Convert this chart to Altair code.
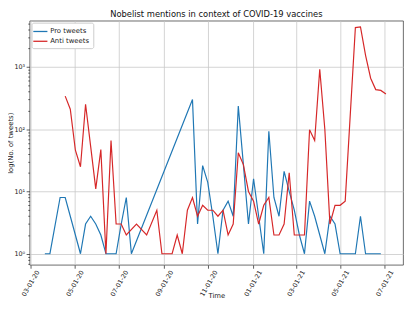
import altair as alt
import pandas as pd

# ---- data (weekly counts, zero weeks omitted) ----
pro_dates = [
    "2020-03-21", "2020-03-28", "2020-04-11", "2020-04-18", "2020-04-25", "2020-05-02",
    "2020-05-09", "2020-05-16", "2020-05-23", "2020-05-30", "2020-06-06", "2020-06-13",
    "2020-06-20", "2020-06-27", "2020-07-04", "2020-07-11", "2020-07-18", "2020-10-10",
    "2020-10-17", "2020-10-24", "2020-10-31", "2020-11-07", "2020-11-14", "2020-11-21",
    "2020-11-28", "2020-12-05", "2020-12-12", "2020-12-19", "2020-12-26", "2021-01-02",
    "2021-01-09", "2021-01-16", "2021-01-23", "2021-01-30", "2021-02-06", "2021-02-13",
    "2021-02-20", "2021-02-27", "2021-03-06", "2021-03-13", "2021-03-20", "2021-03-27",
    "2021-04-03", "2021-04-10", "2021-04-17", "2021-04-24", "2021-05-01", "2021-05-08",
    "2021-05-15", "2021-05-22", "2021-05-29", "2021-06-05", "2021-06-12", "2021-06-19",
    "2021-06-26",
]
pro_counts = [
    1, 1, 8, 8, 4, 2,
    1, 3, 4, 3, 2, 1,
    1, 1, 3, 8, 1, 300,
    3, 26, 14, 4, 1, 5,
    7, 4, 236, 27, 3, 16,
    4, 1, 93, 8, 4, 21,
    10, 5, 2, 1, 7, 4,
    2, 1, 4, 3, 1, 1,
    1, 1, 4, 1, 1, 1,
    1,
]

anti_dates = [
    "2020-04-18", "2020-04-25", "2020-05-02", "2020-05-09", "2020-05-16", "2020-05-23",
    "2020-05-30", "2020-06-06", "2020-06-13", "2020-06-20", "2020-06-27", "2020-07-04",
    "2020-07-11", "2020-07-25", "2020-08-08", "2020-08-22", "2020-08-29", "2020-09-05",
    "2020-09-12", "2020-09-19", "2020-09-26", "2020-10-03", "2020-10-10", "2020-10-17",
    "2020-10-24", "2020-10-31", "2020-11-07", "2020-11-14", "2020-11-21", "2020-11-28",
    "2020-12-05", "2020-12-12", "2020-12-19", "2020-12-26", "2021-01-02", "2021-01-09",
    "2021-01-16", "2021-01-23", "2021-01-30", "2021-02-06", "2021-02-13", "2021-02-20",
    "2021-02-27", "2021-03-06", "2021-03-13", "2021-03-20", "2021-03-27", "2021-04-03",
    "2021-04-10", "2021-04-17", "2021-04-24", "2021-05-01", "2021-05-08", "2021-05-22",
    "2021-05-29", "2021-06-05", "2021-06-12", "2021-06-19", "2021-06-26", "2021-07-03",
]
anti_counts = [
    340, 210, 46, 25, 252, 53,
    11, 47, 1, 66, 3, 3,
    2, 3, 2, 5, 1, 1,
    1, 2, 1, 5, 8, 4,
    6, 5, 5, 4, 5, 2,
    3, 42, 27, 10, 7, 3,
    6, 8, 2, 2, 3, 20,
    2, 2, 2, 98, 66, 920,
    100, 3, 6, 6, 7, 4300,
    4400, 1540, 660, 433, 420, 369,
]

series_names = ["Pro tweets", "Anti tweets"]
series_colors = ["#1f77b4", "#d62728"]

x_tick_dates = ["2020-03-01", "2020-05-01", "2020-07-01", "2020-09-01", "2020-11-01",
                "2021-01-01", "2021-03-01", "2021-05-01", "2021-07-01"]
y_major = [1, 10, 100, 1000]
y_minor = [0.7, 0.8, 0.9, 2, 3, 4, 5, 6, 7, 8, 9, 20, 30, 40, 50, 60, 70, 80, 90,
           200, 300, 400, 500, 600, 700, 800, 900, 2000, 3000, 4000, 5000]
y_domain = [0.664, 5540]

title_text = "Nobelist mentions in context of COVID-19 vaccines"

# ---- build table ----
df = pd.concat([
    pd.DataFrame({"date": pd.to_datetime(pro_dates), "count": pro_counts, "series": series_names[0]}),
    pd.DataFrame({"date": pd.to_datetime(anti_dates), "count": anti_counts, "series": series_names[1]}),
], ignore_index=True)


def dt(s, hours=0):
    y, m, d = (int(v) for v in s.split("-"))
    return alt.DateTime(year=y, month=m, date=d, hours=hours)


x_values = [dt(s) for s in x_tick_dates]
x_domain = [dt("2020-02-29"), dt("2021-07-26", 14)]

font = "DejaVu Sans"
major_test = "indexof([1, 10, 100, 1000], datum.value) >= 0"

x_enc = alt.X(
    "date:T",
    scale=alt.Scale(domain=x_domain, nice=False),
    axis=alt.Axis(
        values=x_values, format="%m-%d-%y", labelAngle=300, labelAlign="center",
        labelBaseline="middle", labelPadding=15, tickSize=3.5, labelFlush=False,
        labelOverlap=False, labelBound=False, title="Time", titleY=31,
        titleBaseline="middle", grid=True,
    ),
)
y_enc = alt.Y(
    "count:Q",
    scale=alt.Scale(type="log", domain=y_domain, nice=False, zero=False),
    axis=alt.Axis(
        values=sorted(y_major + y_minor),
        labelExpr=("datum.value == 1 ? '10⁰' : datum.value == 10 ? '10¹' : "
                   "datum.value == 100 ? '10²' : datum.value == 1000 ? '10³' : ''"),
        tickSize={"condition": {"test": major_test, "value": 3.5}, "value": 1.8},
        gridOpacity={"condition": {"test": major_test, "value": 1}, "value": 0},
        labelPadding=1.5, labelOverlap=False, labelFlush=False, labelBound=False,
        title="log(No. of tweets)", titleX=-19, titleY=124.5, titleAngle=270,
        titleAlign="center", titleBaseline="middle", grid=True,
    ),
)
color_enc = alt.Color(
    "series:N",
    scale=alt.Scale(domain=series_names, range=series_colors),
    legend=alt.Legend(
        title=None, orient="top-left", offset=2, fillColor="white", strokeColor="#cccccc",
        padding=4, cornerRadius=2, symbolType="M-1.8,0H1.8", symbolSize=64,
        symbolStrokeWidth=1.3, labelFontSize=7, labelFont=font, labelOffset=5,
        rowPadding=2, labelColor="#222222",
    ),
)

base = alt.Chart(df).encode(x=x_enc, y=y_enc, color=color_enc)
pro = base.transform_filter(alt.datum.series == series_names[0]).mark_line(strokeWidth=1.2)
anti = base.transform_filter(alt.datum.series == series_names[1]).mark_line(strokeWidth=1.2)

chart = alt.layer(pro, anti).properties(
    width=381, height=249,
    title=alt.TitleParams(title_text, fontSize=8.5, font=font, fontWeight="normal",
                          color="#111111", offset=2, anchor="middle"),
    autosize=alt.AutoSizeParams(type="none"),
    padding={"left": 22, "top": 10, "right": 4, "bottom": 35},
).configure_view(
    stroke="#444444", strokeWidth=0.8,
).configure_axis(
    domain=False, tickColor="#333333", tickWidth=0.8, labelColor="#222222",
    labelFont=font, labelFontSize=6.5, titleFont=font, titleFontSize=7,
    titleFontWeight="normal", titleColor="#222222", gridColor="#c8c8c8", gridWidth=0.8,
)

chart.save("out.html", embed_options={"renderer": "svg", "actions": False})
